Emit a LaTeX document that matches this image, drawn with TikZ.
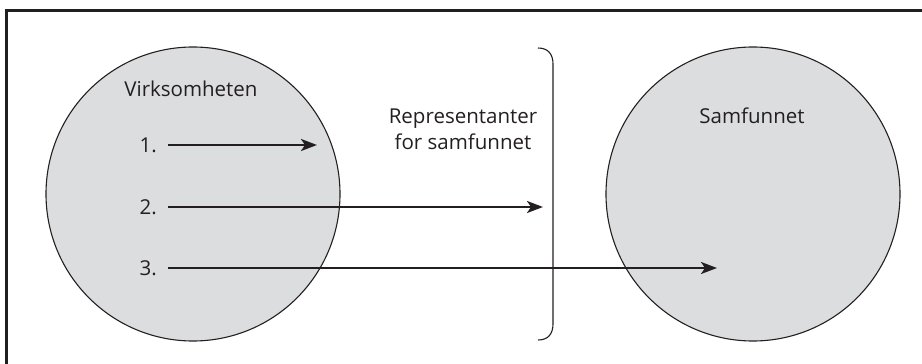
\documentclass[tikz,border=0pt]{standalone}
\usepackage{fontspec}
\setmainfont{Open Sans}
\usetikzlibrary{arrows.meta}
\usetikzlibrary{positioning}
\definecolor{discgray}{HTML}{DCDDDF}
\definecolor{inkgray}{HTML}{231F20}
\tikzset{disc/.style = {circle, draw = inkgray, line width = 1.1pt, fill = discgray,
                        minimum size = 294pt, inner sep = 0}}
\tikzset{lbl/.style = {text = inkgray, font = \fontsize{20.5}{26}\selectfont, inner sep = 0}}
\tikzset{arr/.style = {draw = inkgray, line width = 2.2pt,
                       -{Stealth[length = 16pt, width = 12pt, inset = 4pt]}}}

\begin{document}
\begin{tikzpicture}[x = 1pt, y = -1pt]
    \useasboundingbox (0, 0) rectangle (922, 364);
    \draw [inkgray, line width = 3pt] (6, 364) -- (6, 10) -- (922, 10);
    \node [disc] (firm) at (193, 194) {};
    \node [disc] (society) at (753, 194) {};
    \node [lbl] (firmlbl) at (191, 89) {Virksomheten};
    \node [lbl] (societylbl) at (752, 116) {Samfunnet};
    \node [lbl, align = center] (reps) at (463, 129) {Representanter\\for samfunnet};
    \draw [inkgray, line width = 1.1pt]
      (538, 48) .. controls (548, 48) and (553, 54) .. (553, 64)
      -- (553, 324) .. controls (553, 334) and (548, 340) .. (538, 340);
    \foreach \n/\y/\x in {1/145/317, 2/207/543, 3/268/717} {
      \node [lbl, anchor = east] (num\n) at (157, \y) {\n.};
      \coordinate (tip\n) at (\x, \y);
      \draw [arr] ([xshift = 11pt] num\n.east) -- (tip\n);
    }
  \end{tikzpicture}
\end{document}
